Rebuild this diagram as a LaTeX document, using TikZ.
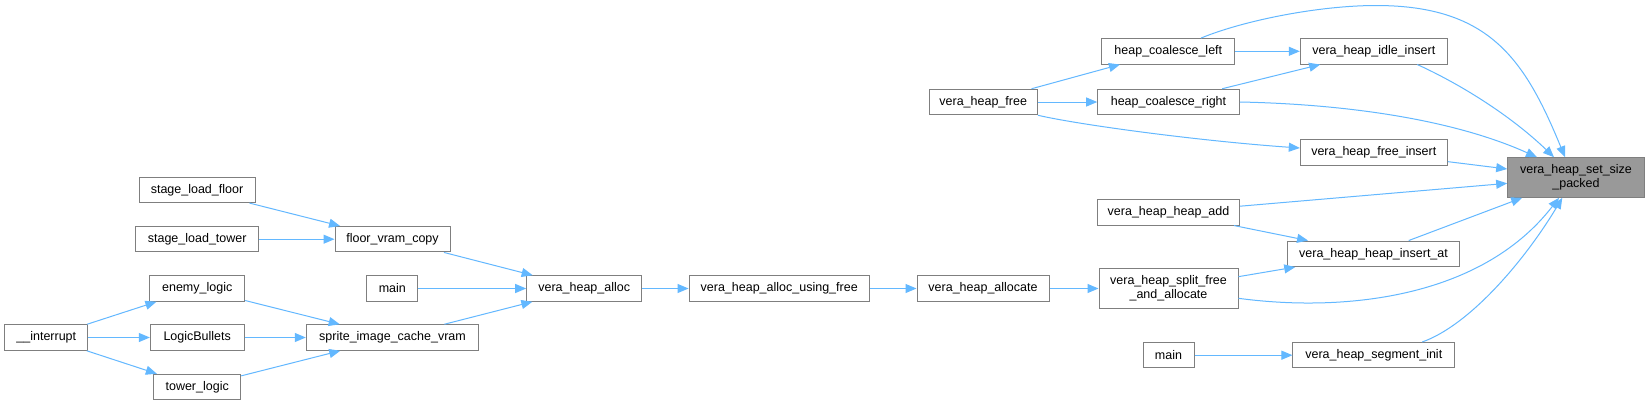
\documentclass[tikz,border=0pt]{standalone}
\usepackage{fontspec}
\setmainfont{Liberation Sans}
\usetikzlibrary{arrows.meta}
\definecolor{edgeblue}{HTML}{63B8FF}
\definecolor{boxgray}{HTML}{7F7F7F}
\definecolor{hlfill}{HTML}{999999}
\begin{document}
\begin{tikzpicture}[x=1pt,y=-1pt,
  fn/.style={draw=boxgray, line width=1pt, fill=white, rectangle, inner sep=0pt,
    minimum height=25.5pt, font=\fontsize{12.5}{14.3}\selectfont, align=center},
  fn2/.style={fn, minimum height=39.6pt},
  call/.style={draw=edgeblue, line width=1pt, -{Triangle[length=11pt,width=9pt]}}]
\useasboundingbox[fill=white] (0,0) rectangle (1649,405);

% left part
\node[fn, minimum width=82.7pt] (intr) at (46.3,337.5) {\_\_interrupt};
\node[fn, minimum width=95pt] (enemy) at (197.2,288.5) {enemy\_logic};
\node[fn, minimum width=93.7pt] (bullets) at (197.2,337.5) {LogicBullets};
\node[fn, minimum width=87pt] (tower) at (197.2,387) {tower\_logic};
\node[fn, minimum width=116pt] (slf) at (197,189.8) {stage\_load\_floor};
\node[fn, minimum width=123pt] (slt) at (197.2,239.2) {stage\_load\_tower};
\node[fn, minimum width=115pt] (fvc) at (392.5,239.2) {floor\_vram\_copy};
\node[fn, minimum width=50.7pt] (mainL) at (392.3,288.5) {main};
\node[fn, minimum width=172.4pt] (sprite) at (392.5,337.5) {sprite\_image\_cache\_vram};
\node[fn, minimum width=115pt] (alloc) at (584.2,288.5) {vera\_heap\_alloc};
\node[fn, minimum width=180.3pt] (usingfree) at (779.2,288.5) {vera\_heap\_alloc\_using\_free};
\node[fn, minimum width=132pt] (allocate) at (983,288.5) {vera\_heap\_allocate};

% right part
\node[fn, minimum width=108.3pt] (vfree) at (983.2,102) {vera\_heap\_free};
\node[fn, minimum width=133.3pt] (hcl) at (1168.3,51.3) {heap\_coalesce\_left};
\node[fn, minimum width=141.6pt] (hcr) at (1168.5,102) {heap\_coalesce\_right};
\node[fn, minimum width=142.4pt] (hadd) at (1168.5,212.3) {vera\_heap\_heap\_add};
\node[fn2, minimum width=139pt] (split) at (1168.5,288.5) {vera\_heap\_split\_free\\\_and\_allocate};
\node[fn, minimum width=51pt] (mainR) at (1168.5,355.2) {main};
\node[fn, minimum width=147pt] (idle) at (1373.8,51.3) {vera\_heap\_idle\_insert};
\node[fn, minimum width=147pt] (fi) at (1373.8,152.5) {vera\_heap\_free\_insert};
\node[fn, minimum width=172.4pt] (insat) at (1373.5,253.8) {vera\_heap\_heap\_insert\_at};
\node[fn, minimum width=161.7pt] (segin) at (1373.8,355.2) {vera\_heap\_segment\_init};
\node[fn2, minimum width=136.6pt, fill=hlfill] (ssp) at (1576,177.5) {vera\_heap\_set\_size\\\_packed};

% edges left
\draw[call] (intr) -- (enemy);
\draw[call] (intr) -- (bullets);
\draw[call] (intr) -- (tower);
\draw[call] (enemy) -- (sprite);
\draw[call] (bullets) -- (sprite);
\draw[call] (tower) -- (sprite);
\draw[call] (slf) -- (fvc);
\draw[call] (slt) -- (fvc);
\draw[call] (fvc) -- (alloc);
\draw[call] (mainL) -- (alloc);
\draw[call] (sprite) -- (alloc);
\draw[call] (alloc) -- (usingfree);
\draw[call] (usingfree) -- (allocate);
\draw[call] (allocate) -- (split);

% edges right
\draw[call] (vfree) -- (hcl);
\draw[call] (vfree) -- (hcr);
\draw[call] (vfree.south east) .. controls (1080,125) and (1200,141) .. ([yshift=4.5pt]fi.west);
\draw[call] (hcl) -- (idle);
\draw[call] (hcr) -- (idle);
\draw[call] ([xshift=32.7pt]hcl.north) .. controls (1245,20) and (1320,5.5) .. (1376,5.5)
  .. controls (1490,5.5) and (1525,60) .. ([xshift=-11pt]ssp.north);
\draw[call] (hcr.east) .. controls (1340,104) and (1450,118) .. ([xshift=-39pt]ssp.north);
\draw[call] ([xshift=43.5pt]idle.south) .. controls (1460,84) and (1510,115) .. ([xshift=-22pt]ssp.north);
\draw[call] (fi) -- (ssp);
\draw[call] (hadd) -- (ssp);
\draw[call] (hadd) -- (insat);
\draw[call] (insat) -- (ssp);
\draw[call] (split) -- (insat);
\draw[call] ([yshift=-9.8pt]split.east) .. controls (1340,312) and (1480,300) .. ([xshift=-17pt]ssp.south);
\draw[call] (mainR) -- (segin);
\draw[call] ([xshift=48.5pt]segin.north) .. controls (1470,325) and (1525,260) .. ([xshift=-13.7pt]ssp.south);
\end{tikzpicture}
\end{document}
